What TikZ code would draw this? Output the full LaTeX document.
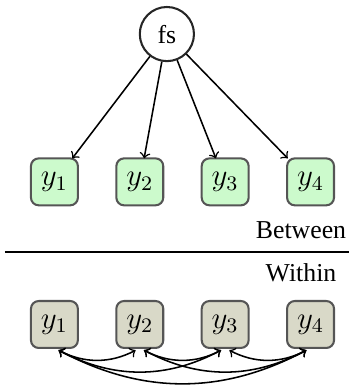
\documentclass[tikz,border=0pt]{standalone}
\usepackage[no-math]{fontspec}
\setmainfont{Liberation Serif}
\usetikzlibrary{positioning}
\definecolor{Frame}{HTML}{555555}
\definecolor{BetweenFill}{HTML}{CCFACC}
\definecolor{WithinFill}{HTML}{D9D9C8}
\tikzset{
  factor/.style={circle,draw=black!85,line width=0.8pt,minimum size=21pt,inner sep=0pt},
  obsbox/.style={draw=Frame,line width=0.8pt,rounded corners=3pt,minimum size=18.2pt,inner sep=0pt,outer sep=0pt,font=\large},
  betbox/.style={obsbox,fill=BetweenFill},
  witbox/.style={obsbox,fill=WithinFill},
  load/.style={->,line width=0.6pt},
  cov/.style={<->,line width=0.6pt,shorten <=1.8pt,shorten >=1.8pt,bend right=28}
}

\begin{document}
\begin{tikzpicture}[node distance=14.9pt]
  \useasboundingbox (0,0) rectangle (135.3pt,-151.2pt);
  % between level
  \node[factor] (fs) at (64.7pt,-13.2pt) {fs};
  \node[betbox] (b1) at (21.1pt,-70.5pt) {$y_1$};
  \node[betbox,right=of b1] (b2) {$y_2$};
  \node[betbox,right=of b2] (b3) {$y_3$};
  \node[betbox,right=of b3] (b4) {$y_4$};
  \foreach \i in {1,...,4}
    \draw[load] (fs) -- (b\i);
  % level separator
  \node[anchor=base] (between) at (116.7pt,-92.6pt) {Between};
  \coordinate (sepL) at (1.9pt,-97.7pt);
  \coordinate (sepR) at (135.3pt,-97.7pt);
  \draw[line width=0.6pt] (sepL) -- (sepR);
  \node[anchor=base] (within) at (116.7pt,-109.2pt) {Within};
  % within level
  \node[witbox] (w1) at (21.1pt,-125.8pt) {$y_1$};
  \node[witbox,right=of w1] (w2) {$y_2$};
  \node[witbox,right=of w2] (w3) {$y_3$};
  \node[witbox,right=of w3] (w4) {$y_4$};
  \foreach \a/\b in {1/2,2/3,3/4,1/3,2/4,1/4}
    \draw[cov] (w\a.south) to (w\b.south);
\end{tikzpicture}
\end{document}
